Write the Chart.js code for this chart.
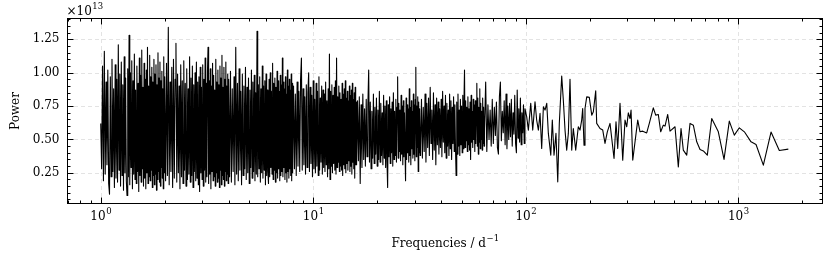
<!DOCTYPE html>
<html>
<head>
<meta charset="utf-8">
<script src="https://cdn.jsdelivr.net/npm/chart.js@4/dist/chart.umd.min.js"></script>
<style>
html,body{margin:0;padding:0;background:#fff}
</style>
</head>
<body>
<canvas id="myChart" width="830" height="257"></canvas>
<script>
// power values are in units of 1e13 (the axis shows "x10^13")
const freqA = [1.00,1.01,1.02,1.03,1.04,1.05,1.06,1.07,1.08,1.09,
	1.10,1.11,1.12,1.13,1.14,1.15,1.16,1.17,1.18,1.19,
	1.20,1.21,1.22,1.23,1.24,1.25,1.26,1.27,1.28,1.29,
	1.30,1.31,1.32,1.33,1.34,1.35,1.36,1.37,1.38,1.39,
	1.40,1.41,1.42,1.43,1.44,1.45,1.46,1.47,1.48,1.49,
	1.50,1.51,1.52,1.53,1.54,1.55,1.56,1.57,1.58,1.59,
	1.60,1.61,1.62,1.63,1.64,1.65,1.66,1.67,1.68,1.69,
	1.70,1.71,1.72,1.73,1.74,1.75,1.76,1.77,1.78,1.79,
	1.80,1.81,1.82,1.83,1.84,1.85,1.86,1.87,1.88,1.89,
	1.90,1.91,1.92,1.93,1.94,1.95,1.96,1.97,1.98,1.99]
const powerA = [0.62,0.28,1.05,0.19,1.16,0.24,0.93,0.31,1.02,0.17,
	0.09,0.97,0.22,1.10,0.26,0.88,0.14,1.06,0.21,0.95,
	0.18,1.21,0.27,0.99,0.15,1.08,0.23,0.91,0.12,1.12,
	0.25,0.96,0.19,0.08,1.03,0.22,1.28,0.16,1.00,0.29,
	1.09,0.13,0.94,0.24,1.14,0.20,0.87,0.17,1.05,0.26,
	0.92,0.11,1.11,0.23,0.98,0.18,1.17,0.28,0.89,0.15,
	1.07,0.21,0.95,0.13,1.02,0.25,1.19,0.17,0.90,0.22,
	1.13,0.19,0.97,0.27,1.04,0.14,0.93,0.23,1.10,0.16,
	0.99,0.24,1.06,0.12,0.91,0.20,1.15,0.26,0.96,0.18,
	1.08,0.15,0.94,0.29,1.01,0.21,0.88,0.13,1.12,0.25]

const freqB = [2.00,2.02,2.04,2.06,2.08,2.10,2.12,2.14,2.16,2.18,
	2.20,2.22,2.24,2.26,2.28,2.30,2.32,2.34,2.36,2.38,
	2.40,2.42,2.44,2.46,2.48,2.50,2.52,2.54,2.56,2.58,
	2.60,2.62,2.64,2.66,2.68,2.70,2.72,2.74,2.76,2.78,
	2.80,2.82,2.84,2.86,2.88,2.90,2.92,2.94,2.96,2.98,
	3.00,3.02,3.04,3.06,3.08,3.10,3.12,3.14,3.16,3.18,
	3.20,3.22,3.24,3.26,3.28,3.30,3.32,3.34,3.36,3.38,
	3.40,3.42,3.44,3.46,3.48,3.50,3.52,3.54,3.56,3.58,
	3.60,3.62,3.64,3.66,3.68,3.70,3.72,3.74,3.76,3.78,
	3.80,3.82,3.84,3.86,3.88,3.90,3.92,3.94,3.96,3.98]
const powerB = [0.97,0.19,1.07,0.23,1.34,0.16,0.93,0.26,1.04,0.14,
	1.10,0.21,0.95,1.22,0.18,0.99,0.25,0.90,0.13,1.06,
	0.22,0.94,0.17,1.09,0.27,0.92,0.15,1.03,0.20,0.88,
	0.24,1.12,0.18,0.96,0.23,1.05,0.14,0.91,0.26,1.00,
	0.19,1.08,0.21,0.93,0.16,0.97,0.11,1.04,0.25,0.89,
	0.20,1.06,0.15,0.95,0.27,1.11,0.18,0.92,0.22,1.01,
	1.19,0.17,0.94,0.24,1.03,0.13,0.90,0.26,1.07,0.19,
	0.98,0.22,0.87,0.15,1.10,0.25,0.93,0.18,1.02,0.21,
	0.91,0.14,1.05,0.27,0.96,0.16,1.13,0.23,0.89,0.20,
	1.04,0.15,0.95,0.26,1.08,0.19,0.90,0.24,0.99,0.17]

const freqC = [4.00,4.04,4.08,4.12,4.16,4.20,4.24,4.28,4.32,4.36,
	4.40,4.44,4.48,4.52,4.56,4.60,4.64,4.68,4.72,4.76,
	4.80,4.84,4.88,4.92,4.96,5.00,5.04,5.08,5.12,5.16,
	5.20,5.24,5.28,5.32,5.36,5.40,5.44,5.48,5.52,5.56,
	5.60,5.64,5.68,5.72,5.76,5.80,5.84,5.88,5.92,5.96,
	6.00,6.04,6.08,6.12,6.16,6.20,6.24,6.28,6.32,6.36,
	6.40,6.44,6.48,6.52,6.56,6.60,6.64,6.68,6.72,6.76,
	6.80,6.84,6.88,6.92,6.96,7.00,7.04,7.08,7.12,7.16,
	7.20,7.24,7.28,7.32,7.36,7.40,7.44,7.48,7.52,7.56,
	7.60,7.64,7.68,7.72,7.76,7.80,7.84,7.88,7.92,7.96]
const powerC = [0.95,0.22,1.01,0.18,0.88,0.26,0.97,0.16,1.19,0.24,
	0.92,0.19,1.03,0.27,0.86,0.16,0.99,0.23,0.90,0.28,
	1.04,0.20,0.89,0.25,0.96,0.17,0.87,0.29,1.02,0.21,
	0.93,0.26,0.98,0.19,0.85,0.24,1.31,0.22,0.91,0.28,
	0.97,0.18,0.88,0.25,1.05,0.21,0.90,0.27,0.94,0.16,
	0.99,0.23,0.87,0.26,0.17,0.95,0.22,1.00,0.29,0.86,
	0.24,1.07,0.20,0.92,0.27,0.96,0.18,0.89,0.25,1.01,
	0.21,0.94,0.28,0.86,0.19,0.98,0.23,0.91,0.26,1.11,
	0.22,0.93,0.29,0.88,0.20,0.97,0.25,0.84,0.18,1.02,
	0.26,0.90,0.21,0.95,0.28,0.87,0.23,0.99,0.19,0.92]

const freqD = [8.00,8.08,8.16,8.24,8.32,8.40,8.48,8.56,8.64,8.72,
	8.80,8.88,8.96,9.04,9.12,9.20,9.28,9.36,9.44,9.52,
	9.60,9.68,9.76,9.84,9.92,10.00,10.08,10.16,10.24,10.32,
	10.40,10.48,10.56,10.64,10.72,10.80,10.88,10.96,11.04,11.12,
	11.20,11.28,11.36,11.44,11.52,11.60,11.68,11.76,11.84,11.92,
	12.00,12.08,12.16,12.24,12.32,12.40,12.48,12.56,12.64,12.72,
	12.80,12.88,12.96,13.04,13.12,13.20,13.28,13.36,13.44,13.52,
	13.60,13.68,13.76,13.84,13.92,14.00,14.08,14.16,14.24,14.32,
	14.40,14.48,14.56,14.64,14.72,14.80,14.88,14.96,15.04,15.12,
	15.20,15.28,15.36,15.44,15.52,15.60,15.68,15.76,15.84,15.92]
const powerD = [0.25,0.90,0.28,0.84,0.23,0.93,0.30,0.86,0.26,0.95,
	1.11,0.27,0.88,0.31,0.82,0.24,0.91,0.29,0.85,1.00,
	0.26,0.89,0.32,0.83,0.22,0.94,0.28,0.80,0.25,0.92,
	0.30,0.86,0.23,0.97,0.27,0.81,0.33,0.90,0.24,0.87,
	0.29,0.84,0.26,0.93,0.31,0.79,0.22,0.88,0.28,1.14,
	0.20,0.86,0.30,0.91,0.25,0.83,0.32,0.89,0.27,0.94,
	0.24,1.11,0.29,0.82,0.33,0.90,0.26,0.85,0.30,0.80,
	0.27,0.92,0.23,0.84,0.31,0.88,0.28,0.94,0.25,0.81,
	0.32,0.86,0.27,0.79,0.34,0.90,0.26,0.83,0.30,0.87,
	0.24,0.92,0.33,0.80,0.28,0.85,0.21,0.89,0.31,0.78]

const freqE = [16.00,16.16,16.32,16.48,16.64,16.80,16.96,17.12,17.28,17.44,
	17.60,17.76,17.92,18.08,18.24,18.40,18.56,18.72,18.88,19.04,
	19.20,19.36,19.52,19.68,19.84,20.00,20.16,20.32,20.48,20.64,
	20.80,20.96,21.12,21.28,21.44,21.60,21.76,21.92,22.08,22.24,
	22.40,22.56,22.72,22.88,23.04,23.20,23.36,23.52,23.68,23.84,
	24.00,24.16,24.32,24.48,24.64,24.80,24.96,25.12,25.28,25.44,
	25.60,25.76,25.92,26.08,26.24,26.40,26.56,26.72,26.88,27.04,
	27.20,27.36,27.52,27.68,27.84,28.00,28.16,28.32,28.48,28.64,
	28.80,28.96,29.12,29.28,29.44,29.60,29.76,29.92,30.08,30.24,
	30.40,30.56,30.72,30.88,31.04,31.20,31.36,31.52,31.68,31.84]
const powerE = [0.31,0.79,0.34,0.82,0.17,0.76,0.29,0.84,0.35,0.73,
	0.30,0.80,0.37,0.75,1.02,0.33,0.78,0.28,0.71,0.36,
	0.84,0.32,0.74,0.39,0.81,0.30,0.72,0.35,0.86,0.33,
	0.77,0.38,0.70,0.31,0.83,0.36,0.75,0.29,0.79,0.34,
	0.14,0.76,0.37,0.82,0.32,0.73,0.40,0.78,0.30,0.85,
	0.35,0.71,0.38,0.80,0.33,0.74,0.97,0.36,0.77,0.41,
	0.72,0.34,0.83,0.39,0.75,0.31,0.79,0.37,0.70,0.42,
	0.19,0.81,0.35,0.76,0.40,0.73,0.33,0.88,0.38,0.74,
	0.31,0.79,0.43,0.71,0.36,0.84,0.39,0.76,0.34,0.80,
	1.04,0.37,0.75,0.44,0.82,0.26,0.78,0.40,0.73,0.38]

const freqF = [32.00,32.32,32.64,32.96,33.28,33.60,33.92,34.24,34.56,34.88,
	35.20,35.52,35.84,36.16,36.48,36.80,37.12,37.44,37.76,38.08,
	38.40,38.72,39.04,39.36,39.68,40.00,40.32,40.64,40.96,41.28,
	41.60,41.92,42.24,42.56,42.88,43.20,43.52,43.84,44.16,44.48,
	44.80,45.12,45.44,45.76,46.08,46.40,46.72,47.04,47.36,47.68,
	48.00,48.32,48.64,48.96,49.28,49.60,49.92,50.24,50.56,50.88,
	51.20,51.52,51.84,52.16,52.48,52.80,53.12,53.44,53.76,54.08,
	54.40,54.72,55.04,55.36,55.68,56.00,56.32,56.64,56.96,57.28,
	57.60,57.92,58.24,58.56,58.88,59.20,59.52,59.84,60.16,60.48,
	60.80,61.12,61.44,61.76,62.08,62.40,62.72,63.04,63.36,63.68]
const powerF = [0.45,0.80,0.36,0.74,0.41,0.84,0.33,0.77,0.44,0.81,
	0.38,0.89,0.47,0.72,0.35,0.85,0.42,0.76,0.31,0.81,
	0.46,0.78,0.39,0.73,0.44,0.80,0.37,0.86,0.48,0.75,
	0.40,0.83,0.36,0.77,0.45,0.72,0.38,0.84,0.43,0.79,
	0.35,0.74,0.47,0.82,0.41,0.76,0.44,0.23,0.78,0.39,
	0.84,0.45,0.72,0.38,0.80,0.46,0.75,0.40,0.83,0.43,
	0.77,1.02,0.44,0.79,0.49,0.74,0.41,0.82,0.46,0.73,
	0.42,0.78,0.35,0.83,0.48,0.71,0.44,0.80,0.50,0.76,
	0.41,0.79,0.47,0.75,0.92,0.45,0.81,0.39,0.74,0.48,
	0.88,0.43,0.77,0.50,0.71,0.42,0.81,0.47,0.74,0.45]

const freqG = [64.0,64.8,65.6,66.4,67.2,68.0,68.8,69.6,70.4,71.2,
	72.0,72.8,73.6,74.4,75.2,76.0,76.8,77.6,78.4,79.2,
	80.0,80.8,81.6,82.4,83.2,84.0,84.8,85.6,86.4,87.2,
	88.0,88.8,89.6,90.4,91.2,92.0,92.8,93.6,94.4,95.2,
	96.0,96.8,97.6,98.4,99.2]
const powerG = [0.58,0.93,0.41,0.76,0.50,0.72,0.45,0.80,0.47,0.74,
	0.53,0.78,0.44,0.39,0.82,0.93,0.49,0.71,0.55,0.79,
	0.46,0.84,0.43,0.75,0.50,0.77,0.52,0.80,0.45,0.70,
	0.54,0.83,0.47,0.40,0.87,0.51,0.73,0.48,0.81,0.46,
	0.70,0.55,0.76,0.47,0.73]

const freqH = [101.1,102.9,105.6,107.9,110.6,112.6,114.7,116.8,118.9,121.1,123.3,125.6,127.8,131.2,133.4,135.9,138.8,141.5,143.9,147.7,150.3,153.1,155.9,158.7,161.6,164.6,167.5,171.9,176.8,180.1,183.4,185.4,188.1,190.1,193.7,199.2,204.5,208.1,213.5,215.8]
const powerH = [0.669,0.570,0.770,0.570,0.782,0.645,0.570,0.695,0.432,0.745,0.720,0.770,0.545,0.382,0.645,0.382,0.545,0.182,0.620,0.975,0.795,0.570,0.420,0.545,0.950,0.420,0.582,0.420,0.595,0.570,0.645,0.732,0.457,0.732,0.819,0.815,0.682,0.707,0.864,0.620]

const freqI = [223.7,230.4,236.1,242.1,249.3,260.4,266.0,271.0,277.8,286.1,293.3,298.8,304.0,309.7,313.1,318.9,336.6,345.1,355.3,371.0,381.6,398.5,409.0,420.7,431.8,444.1,452.4,465.8,477.6,504.2,522.6,538.1,551.6,572.4,593.3,614.9,638.0,661.2,685.3,715.6,750.5,806.1,857.5,907.9,958.6,1012,1069,1149,1213,1313,1427,1561,1721]
const powerI = [0.582,0.570,0.470,0.557,0.620,0.357,0.632,0.432,0.770,0.345,0.645,0.595,0.699,0.657,0.720,0.345,0.645,0.557,0.562,0.549,0.620,0.737,0.682,0.687,0.557,0.607,0.600,0.687,0.562,0.595,0.294,0.582,0.420,0.382,0.620,0.607,0.482,0.424,0.414,0.382,0.657,0.557,0.350,0.637,0.532,0.587,0.557,0.482,0.462,0.307,0.555,0.417,0.427]

const xMajor = [1, 10, 100, 1000]
const yMajor = [0.25, 0.50, 0.75, 1.00, 1.25]

const freqs = [].concat(freqA, freqB, freqC, freqD, freqE, freqF, freqG, freqH, freqI)
const powers = [].concat(powerA, powerB, powerC, powerD, powerE, powerF, powerG, powerH, powerI)
const points = freqs.map((f, i) => ({x: f, y: powers[i]}))

const serif = '"DejaVu Serif", serif'

// draws the matplotlib-like frame: dashed grid, inward ticks on all sides, labels
const axesPlugin = {
	id: 'axesPlugin',
	beforeDatasetsDraw(chart){
		const ctx = chart.ctx, a = chart.chartArea
		const xs = chart.scales.x, ys = chart.scales.y
		ctx.save()
		ctx.strokeStyle = '#e3e3e3'
		ctx.lineWidth = 1
		ctx.setLineDash([4, 3])
		xMajor.forEach(v => {
			const px = Math.round(xs.getPixelForValue(v)) + 0.5
			ctx.beginPath(); ctx.moveTo(px, a.top); ctx.lineTo(px, a.bottom); ctx.stroke()
		})
		yMajor.forEach(v => {
			const py = Math.round(ys.getPixelForValue(v)) + 0.5
			ctx.beginPath(); ctx.moveTo(a.left, py); ctx.lineTo(a.right, py); ctx.stroke()
		})
		ctx.restore()
	},
	afterDraw(chart){
		const ctx = chart.ctx, a = chart.chartArea
		const xs = chart.scales.x, ys = chart.scales.y
		ctx.save()
		ctx.strokeStyle = '#000'
		ctx.lineWidth = 1
		const L = Math.round(a.left) + 0.5, R = Math.round(a.right) - 0.5
		const T = Math.round(a.top) + 0.5, B = Math.round(a.bottom) - 0.5
		ctx.strokeRect(L, T, R - L, B - T)

		const tick = (x1, y1, x2, y2) => { ctx.beginPath(); ctx.moveTo(x1, y1); ctx.lineTo(x2, y2); ctx.stroke() }
		// x ticks
		for (let d = -1; d <= 3; d++){
			for (let m = 1; m <= 9; m++){
				const v = m * Math.pow(10, d)
				if (v < xs.min || v > xs.max) continue
				const px = Math.round(xs.getPixelForValue(v)) + 0.5
				const len = m === 1 ? 6 : 3
				tick(px, B, px, B - len)
				tick(px, T, px, T + len)
			}
		}
		// y ticks, minor every 0.05
		for (let k = 1; k <= 28; k++){
			const v = k * 0.05
			if (v < ys.min || v > ys.max) continue
			const py = Math.round(ys.getPixelForValue(v)) + 0.5
			const len = k % 5 === 0 ? 6 : 3
			tick(L, py, L + len, py)
			tick(R, py, R - len, py)
		}

		ctx.fillStyle = '#000'
		// y tick labels
		ctx.font = '12px ' + serif
		ctx.textAlign = 'right'
		ctx.textBaseline = 'middle'
		yMajor.forEach(v => {
			ctx.fillText(v.toFixed(2), L - 8, ys.getPixelForValue(v))
		})
		// x tick labels 10^n
		ctx.textBaseline = 'alphabetic'
		xMajor.forEach(v => {
			const px = xs.getPixelForValue(v)
			const exp = String(Math.round(Math.log10(v)))
			ctx.font = '12px ' + serif
			const w1 = ctx.measureText('10').width
			ctx.font = '8.5px ' + serif
			const w2 = ctx.measureText(exp).width
			const x0 = px - (w1 + w2) / 2
			ctx.textAlign = 'left'
			ctx.font = '12px ' + serif
			ctx.fillText('10', x0, 220)
			ctx.font = '8.5px ' + serif
			ctx.fillText(exp, x0 + w1 + 0.5, 213.5)
		})
		// offset text
		ctx.font = '12px ' + serif
		ctx.fillText('\u00d710', L - 1, 15)
		const wo = ctx.measureText('\u00d710').width
		ctx.font = '8.5px ' + serif
		ctx.fillText('13', L - 1 + wo + 0.5, 9)

		// axis titles
		ctx.font = '12px ' + serif
		const t1 = 'Frequencies / d'
		const w3 = ctx.measureText(t1).width
		ctx.font = '8.5px ' + serif
		const w4 = ctx.measureText('\u22121').width
		const cx = (a.left + a.right) / 2 - (w3 + w4) / 2
		ctx.font = '12px ' + serif
		ctx.fillText(t1, cx, 247)
		ctx.font = '8.5px ' + serif
		ctx.fillText('\u22121', cx + w3 + 0.5, 241)

		ctx.translate(19, (a.top + a.bottom) / 2)
		ctx.rotate(-Math.PI / 2)
		ctx.font = '12px ' + serif
		ctx.textAlign = 'center'
		ctx.fillText('Power', 0, 0)
		ctx.restore()
	}
}

const ctx = document.getElementById('myChart').getContext('2d')
new Chart(ctx, {
	type: 'line',
	data: {
		datasets: [{
			data: points,
			borderColor: '#000',
			borderWidth: 1.1,
			borderJoinStyle: 'round',
			pointRadius: 0,
			tension: 0,
			fill: false
		}]
	},
	options: {
		responsive: false,
		animation: false,
		devicePixelRatio: 1,
		events: [],
		layout: {padding: {left: 67, right: 7, top: 18, bottom: 53}},
		plugins: {legend: {display: false}, tooltip: {enabled: false}},
		scales: {
			x: {type: 'logarithmic', min: 0.694, max: 2506, display: false},
			y: {type: 'linear', min: 0.016, max: 1.41, display: false}
		}
	},
	plugins: [axesPlugin]
})
</script>
</body>
</html>
